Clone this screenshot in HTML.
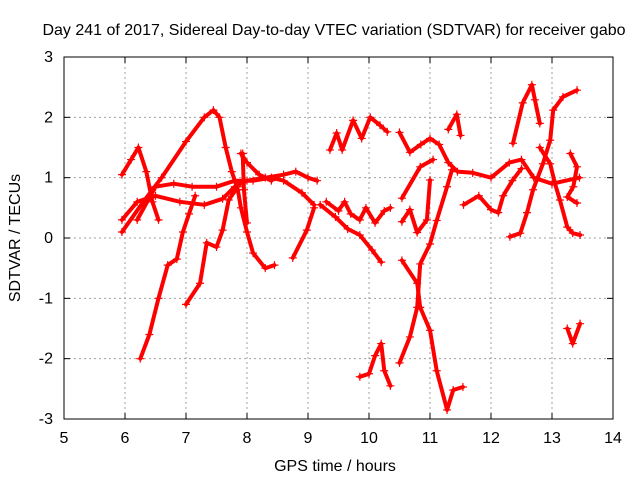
<!DOCTYPE html>
<html><head><meta charset="utf-8"><style>
body{margin:0;background:#fff;}
svg text{font-family:"Liberation Sans",sans-serif;font-size:16px;fill:#000;}
</style></head><body>
<svg id="chart" width="640" height="480" viewBox="0 0 640 480" xmlns="http://www.w3.org/2000/svg">
<rect width="640" height="480" fill="#fff"/>
<text x="334" y="35" text-anchor="middle">Day 241 of 2017, Sidereal Day-to-day VTEC variation (SDTVAR) for receiver gabo</text>
<g id="grid"></g>
<g id="axes"></g>
<g id="series"></g>
<rect x="64" y="57" width="549" height="362" fill="none" stroke="#000" stroke-width="1"/>
<text x="335" y="471" text-anchor="middle">GPS time / hours</text>
<text transform="translate(20,238) rotate(-90)" text-anchor="middle">SDTVAR / TECUs</text>
</svg>
<script>
const xTicks=[5,6,7,8,9,10,11,12,13,14];
const yTicks=[-3,-2,-1,0,1,2,3];
const trackA=[[5.95,1.05],[6.1,1.3],[6.22,1.5],[6.35,1.1],[6.45,0.6],[6.55,0.3]];
const trackB=[[5.95,0.1],[6.3,0.6],[6.6,1.0],[7.0,1.6],[7.3,2.0],[7.45,2.12],[7.55,2.0],[7.65,1.5],[7.75,1.1],[7.85,0.8],[7.9,0.5],[8.0,0.1],[8.1,-0.25],[8.3,-0.5],[8.45,-0.45]];
const trackC=[[5.95,0.3],[6.2,0.6],[6.5,0.7],[6.9,0.6],[7.3,0.55],[7.6,0.65],[7.8,0.85],[8.0,0.95],[8.3,1.0],[8.6,1.05],[8.8,1.1],[9.0,1.0],[9.15,0.95]];
const trackD=[[6.2,0.3],[6.5,0.85],[6.8,0.9],[7.1,0.85],[7.5,0.85],[7.8,0.95],[8.1,0.95],[8.4,1.0],[8.6,0.95],[8.9,0.75],[9.1,0.55]];
const trackE=[[7.9,1.4],[8.0,1.25],[8.2,1.05],[8.4,0.95]];
const trackF=[[6.25,-2.0],[6.4,-1.6],[6.55,-1.0],[6.7,-0.45],[6.85,-0.35],[6.95,0.1],[7.05,0.4],[7.15,0.7]];
const trackG=[[7.0,-1.1],[7.23,-0.75],[7.34,-0.08],[7.5,-0.15],[7.6,0.13],[7.7,0.63],[7.85,0.85]];
const trackH=[[8.75,-0.33],[8.98,0.13],[9.1,0.5]];
const trackI=[[7.93,1.4],[7.95,0.8],[8.0,0.25]];
const trackJ=[[9.36,1.46],[9.47,1.74],[9.56,1.46],[9.74,1.95],[9.88,1.65],[10.02,2.0],[10.18,1.87],[10.3,1.76]];
const trackK1=[[9.2,0.55],[9.45,0.35],[9.65,0.15],[9.85,0.05],[10.05,-0.2],[10.2,-0.4]];
const trackK2=[[9.3,0.6],[9.5,0.45],[9.6,0.6],[9.7,0.4],[9.85,0.3],[9.95,0.5],[10.1,0.25],[10.25,0.45],[10.35,0.5]];
const trackL=[[9.85,-2.3],[10.0,-2.25],[10.1,-1.95],[10.2,-1.75],[10.25,-2.2],[10.35,-2.45]];
const trackM=[[10.5,1.75],[10.67,1.42],[10.85,1.55],[11.0,1.65],[11.15,1.55],[11.3,1.25],[11.45,1.1],[11.7,1.08],[12.0,1.0],[12.3,1.25],[12.5,1.3],[12.7,1.0],[13.0,0.9],[13.45,1.0]];
const trackM2=[[11.3,1.8],[11.44,2.05],[11.5,1.7]];
const trackN=[[10.54,0.66],[10.84,1.18],[11.05,1.3]];
const trackO=[[10.54,-0.37],[10.79,-0.75],[10.84,-1.15],[11.0,-1.53],[11.11,-2.2],[11.28,-2.85],[11.38,-2.52],[11.54,-2.47]];
const trackP=[[10.5,-2.07],[10.67,-1.64],[10.79,-1.15],[10.84,-0.43],[11.0,-0.1],[11.11,0.29],[11.28,0.85],[11.36,1.13]];
const trackQ=[[10.54,0.27],[10.67,0.47],[10.79,0.09],[10.95,0.3],[11.0,0.96]];
const trackR=[[11.55,0.55],[11.8,0.7],[12.0,0.47],[12.12,0.42],[12.2,0.7],[12.35,0.95],[12.5,1.15]];
const trackS=[[12.31,0.02],[12.48,0.08],[12.59,0.42],[12.69,0.8],[12.85,1.23],[12.97,1.62],[13.02,2.12],[13.18,2.34],[13.41,2.45]];
const trackT=[[12.36,1.57],[12.52,2.24],[12.67,2.54],[12.72,2.29],[12.8,1.9]];
const trackU=[[12.8,1.5],[12.97,1.23],[13.05,0.9],[13.13,0.63],[13.25,0.18],[13.34,0.08],[13.46,0.05]];
const trackV=[[13.3,1.4],[13.41,1.18],[13.35,0.85],[13.25,0.68],[13.41,0.58]];
const trackW=[[13.25,-1.5],[13.34,-1.75],[13.46,-1.42]];
const tracks=[trackA,trackB,trackC,trackD,trackE,trackF,trackG,trackH,trackI,trackJ,trackK1,trackK2,trackL,trackM,trackM2,trackN,trackO,trackP,trackQ,trackR,trackS,trackT,trackU,trackV,trackW];

const X0=64,X1=613,Y0=419,Y1=57;
function sx(t){return X0+(t-5)/(14-5)*(X1-X0);}
function sy(v){return Y0-(v+3)/6*(Y0-Y1);}
const NS="http://www.w3.org/2000/svg";
function mk(tag,attrs,parent){const e=document.createElementNS(NS,tag);for(const k in attrs)e.setAttribute(k,attrs[k]);parent.appendChild(e);return e;}
const grid=document.getElementById('grid'),axes=document.getElementById('axes'),series=document.getElementById('series');
xTicks.forEach(t=>{
  const x=sx(t);
  if(t>5&&t<14){const g=mk('line',{x1:x,y1:Y1,x2:x,y2:Y0,stroke:'#a0a0a0','stroke-dasharray':'2,3'},grid);
  
  }
  mk('line',{x1:x,y1:Y0,x2:x,y2:Y0-6,stroke:'#000'},axes);
  mk('line',{x1:x,y1:Y1,x2:x,y2:Y1+6,stroke:'#000'},axes);
  const l=mk('text',{x:x,y:443,'text-anchor':'middle'},axes);l.textContent=t;
  
  
});
yTicks.forEach(v=>{
  const y=sy(v);
  if(v>-3&&v<3){const g=mk('line',{x1:X0,y1:y,x2:X1,y2:y,stroke:'#a0a0a0','stroke-dasharray':'2,3'},grid);
  
  }
  mk('line',{x1:X0,y1:y,x2:X0+6,y2:y,stroke:'#000'},axes);
  mk('line',{x1:X1,y1:y,x2:X1-6,y2:y,stroke:'#000'},axes);
  const l=mk('text',{x:53,y:y+5,'text-anchor':'end'},axes);l.textContent=v;
  
  
});
tracks.forEach(tr=>{
  const g=mk('g',{},series);
  
  
  const pts=tr.map(p=>sx(p[0]).toFixed(1)+','+sy(p[1]).toFixed(1)).join(' ');
  mk('polyline',{points:pts,fill:'none',stroke:'#f00','stroke-width':4,'stroke-linejoin':'round','stroke-linecap':'round'},g);
  tr.forEach(p=>{
    const x=sx(p[0]),y=sy(p[1]);
    const m=mk('path',{d:`M${x-4},${y}h8M${x},${y-4}v8`,stroke:'#f00','stroke-width':1.2},g);
    
    
  });
});
</script>
</body></html>
